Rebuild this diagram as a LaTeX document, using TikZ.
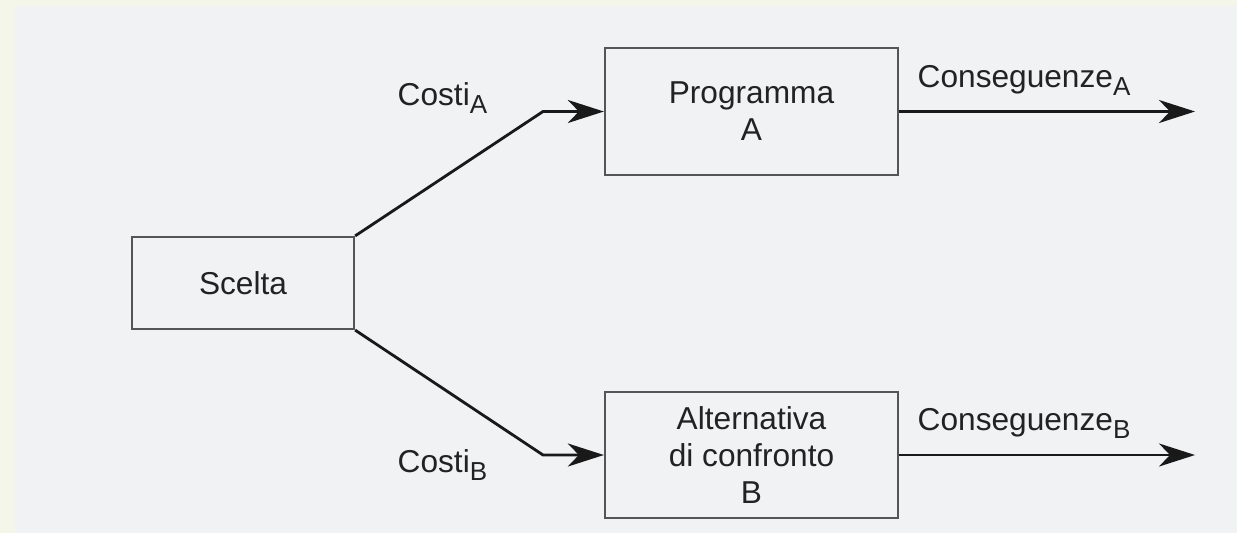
\documentclass[tikz,border=0pt]{standalone}
\usepackage{fontspec}
\setmainfont{Liberation Sans}
\usetikzlibrary{arrows.meta}

\newcommand{\lowsub}[1]{\raisebox{-2.3pt}{\fontsize{7.4}{8}\selectfont #1}}

\begin{document}
\begin{tikzpicture}[
        x=0.01cm, y=-0.01cm,
        block/.style={rectangle, draw=boxgray, line width=0.6pt, inner sep=0pt, align=center, text=textdark, font=\fontsize{9}{10.5}\selectfont},
        label_node/.style={inner sep=0pt, text=textdark, font=\fontsize{9}{10.5}\selectfont},
        conn/.style={line width=0.8pt, draw=black!90, line join=miter, -{Stealth[length=3.6mm, width=2.3mm, inset=1.1mm]}}
    ]

        \definecolor{slidegreen}{RGB}{243, 246, 233}
        \definecolor{panel}{RGB}{240, 242, 244}
        \definecolor{boxgray}{RGB}{85, 85, 85}
        \definecolor{textdark}{RGB}{34, 34, 34}

        % background
        \fill[slidegreen] (0,0) rectangle (1237,533);
        \fill[panel] (15,6) rectangle (1237,533);
        \useasboundingbox (0,0) rectangle (1237,533);

        \node[block, minimum width=2.22cm, minimum height=0.92cm] (scelta) at (243,283) {Scelta};
        \node[block, minimum width=2.93cm, minimum height=1.27cm] (progA) at (751.5,111.5) {Programma\\A};
        \node[block, minimum width=2.93cm, minimum height=1.26cm] (altB) at (751.5,455) {Alternativa\\di confronto\\B};

        \coordinate (kneeA) at (543,111.5);
        \coordinate (kneeB) at (543,455);
        \coordinate (outA) at (1195,111.5);
        \coordinate (outB) at (1195,455);

        \draw[conn] (scelta.north east) -- (kneeA) -- (progA.west);
        \draw[conn] (scelta.south east) -- (kneeB) -- (altB.west);
        \draw[conn] (progA.east) -- (outA);
        \draw[conn] (altB.east) -- (outB);

        \node[label_node, anchor=base west] (costiA) at (397,105) {Costi\lowsub{A}};
        \node[label_node, anchor=base west] (costiB) at (397,472) {Costi\lowsub{B}};
        \node[label_node, anchor=base west] (consA) at (917,87) {Conseguenze\lowsub{A}};
        \node[label_node, anchor=base west] (consB) at (917,430) {Conseguenze\lowsub{B}};
    \end{tikzpicture}
\end{document}
